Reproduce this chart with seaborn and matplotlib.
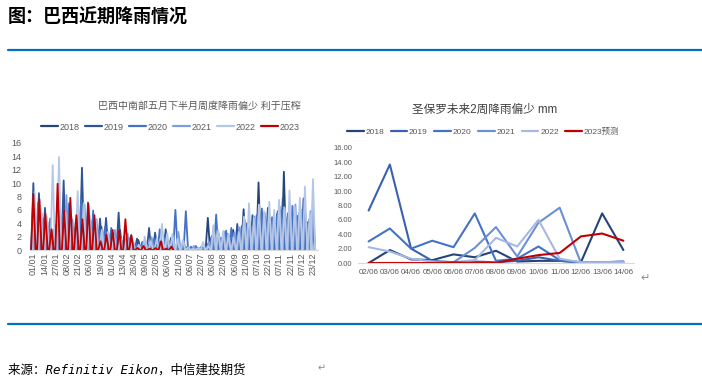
import numpy as np
import pandas as pd
import matplotlib
matplotlib.use("Agg")
import matplotlib.pyplot as plt
from matplotlib.lines import Line2D
import seaborn as sns

# ---- 左图：巴西中南部周度降雨 (每周一个读数, mm) ----
left_ticks = ["01/01", "14/01", "27/01", "08/02", "21/02", "06/03", "19/03", "01/04",
              "13/04", "26/04", "09/05", "22/05", "06/06", "21/06", "06/07", "22/07",
              "06/08", "22/08", "06/09", "21/09", "07/10", "22/10", "07/11", "22/11",
              "07/12", "23/12"]
left_tick_days = [0, 13, 26, 38, 51, 64, 77, 90, 102, 115, 128, 141, 156, 171, 186,
                  202, 217, 233, 248, 263, 279, 294, 310, 325, 340, 356]

rain_2018 = [2.5, 1.8, 3.0, 2.2, 4.0, 3.5, 5.0, 5.5, 4.5, 3.8, 4.0, 3.5, 2.8, 2.4, 3.0, 1.2,
             0.8, 1.5, 0.6, 1.0, 1.4, 0.5, 1.8, 0.9, 0.3, 0.2, 0.4, 0.1, 0.3, 0.2, 4.8, 1.6,
             2.0, 1.5, 2.4, 3.0, 2.2, 6.1, 2.6, 3.8, 10.1, 4.5, 3.9, 4.8, 3.6, 11.7, 5.0, 4.2,
             5.6, 4.3, 4.6, 3.5]
rain_2019 = [10.0, 8.5, 6.3, 3.5, 4.4, 10.4, 4.0, 4.6, 12.3, 7.1, 5.0, 4.7, 4.8, 2.6, 5.6, 1.5,
             2.2, 1.7, 0.9, 3.3, 2.6, 1.4, 3.1, 1.8, 0.3, 0.2, 0.4, 0.1, 0.2, 0.5, 1.0, 2.1,
             1.4, 1.8, 2.2, 1.6, 3.9, 2.9, 3.1, 5.2, 3.8, 4.4, 6.3, 3.3, 5.8, 7.7, 5.5, 5.2,
             4.6, 7.7, 3.8, 4.6]
rain_2020 = [6.0, 7.1, 4.8, 4.7, 3.8, 5.3, 7.0, 3.0, 7.6, 4.1, 5.9, 2.9, 3.5, 3.3, 2.3, 2.0,
             1.8, 0.9, 1.2, 0.8, 1.6, 3.1, 1.9, 1.2, 6.0, 0.6, 5.8, 0.5, 0.6, 0.3, 0.4, 1.9,
             5.3, 1.8, 2.9, 3.3, 2.2, 3.6, 4.0, 3.6, 5.2, 6.2, 4.2, 4.9, 5.4, 6.0, 4.8, 6.6,
             5.1, 5.8, 4.2, 5.0]
rain_2021 = [3.0, 5.5, 4.2, 3.0, 5.9, 8.2, 4.5, 3.2, 6.8, 4.4, 4.6, 3.0, 2.4, 3.0, 1.6, 2.5,
             1.0, 0.6, 1.3, 1.9, 0.5, 1.2, 1.5, 2.0, 2.7, 1.4, 0.2, 0.6, 0.3, 0.4, 1.2, 2.2,
             2.4, 2.8, 2.1, 2.6, 3.4, 4.5, 3.5, 5.0, 4.2, 5.5, 4.9, 4.1, 6.5, 6.2, 5.9, 6.8,
             6.1, 5.5, 5.8, 7.0]
rain_2022 = [8.7, 6.4, 5.0, 12.7, 13.9, 5.6, 4.0, 8.8, 7.0, 5.2, 4.5, 3.0, 2.7, 2.1, 1.6, 1.9,
             1.3, 0.8, 2.0, 1.3, 1.7, 3.9, 2.5, 2.4, 1.7, 1.5, 0.4, 0.2, 0.3, 1.2, 0.6, 3.7,
             3.0, 2.8, 2.4, 1.9, 2.7, 5.0, 7.0, 4.8, 6.8, 5.8, 7.2, 6.0, 7.5, 6.4, 8.9, 6.4,
             7.8, 9.5, 5.5, 10.6]
rain_2023 = [8.4, 7.6, 5.4, 3.1, 9.9, 5.9, 7.8, 5.2, 4.6, 6.9, 5.2, 1.3, 2.3, 3.0, 3.0, 4.6,
             2.2, 0.3, 0.6, 0.2, 0.3, 1.3, 0.2, 0.5]

left_years = ["2018", "2019", "2020", "2021", "2022", "2023"]
left_series = dict(zip(left_years, [rain_2018, rain_2019, rain_2020, rain_2021, rain_2022, rain_2023]))
left_colors = ["#264478", "#2f5597", "#4472c4", "#7f9cdb", "#b4c7e7", "#c00000"]
day_shift = {"2018": 1.0, "2019": -0.5, "2020": -1.5, "2021": 2.5, "2022": 1.5, "2023": 0.0}

# ---- 右图：圣保罗未来2周降雨 (mm) ----
right_dates = ["02/06", "03/06", "04/06", "05/06", "06/06", "07/06", "08/06", "09/06",
               "10/06", "11/06", "12/06", "13/06", "14/06"]
sp_2018 = [0.0, 1.8, 0.5, 0.4, 1.2, 0.8, 1.7, 0.2, 0.3, 0.3, 0.1, 6.9, 1.8]
sp_2019 = [7.3, 13.7, 2.0, 0.3, 0.1, 0.2, 0.1, 0.3, 0.8, 0.3, 0.1, 0.1, 0.1]
sp_2020 = [3.0, 4.8, 2.0, 3.1, 2.2, 6.9, 0.3, 0.6, 2.3, 0.4, 0.1, 0.1, 0.2]
sp_2021 = [0.0, 0.0, 0.0, 0.0, 0.1, 2.1, 5.0, 0.9, 5.6, 7.7, 0.0, 0.1, 0.2]
sp_2022 = [2.2, 1.6, 0.6, 0.2, 0.1, 0.4, 3.5, 2.3, 6.0, 0.6, 0.1, 0.1, 0.1]
sp_2023f = [0.0, 0.0, 0.0, 0.0, 0.1, 0.0, 0.0, 0.6, 1.1, 1.4, 3.7, 4.1, 3.1]
right_names = ["2018", "2019", "2020", "2021", "2022", "2023预测"]
right_series = [sp_2018, sp_2019, sp_2020, sp_2021, sp_2022, sp_2023f]
right_colors = ["#264478", "#3a62b0", "#4472c4", "#6d8fd4", "#a5b8e3", "#c00000"]

sns.set_theme(style="white")
plt.rcParams['font.family'] = ['Liberation Sans', 'Noto Sans CJK SC', 'DejaVu Sans']

W, H = 702, 388
fig = plt.figure(figsize=(W / 100, H / 100), dpi=100)
fig.patch.set_facecolor("white")


def fx(x):
    return x / W


def fy(y):
    return 1 - y / H


grey = "#595959"

# 顶部标题和分隔线
fig.text(fx(8), fy(17), "图：巴西近期降雨情况", fontsize=13, fontweight="bold",
         ha="left", va="center", color="black", family=['Noto Sans CJK SC', 'DejaVu Sans'])
for yy in (50, 324):
    fig.add_artist(Line2D([fx(8), 1.0], [fy(yy), fy(yy)], transform=fig.transFigure,
                          color="#0070c0", lw=1.6))

# ---- 左图 ----
rows = []
idx = np.arange(len(left_ticks))
for yr, vals in left_series.items():
    for w, v in enumerate(vals):
        p = np.interp(7 * w + day_shift[yr], left_tick_days, idx)
        rows += [(yr, p - 0.2, 0.0), (yr, p, v), (yr, p + 0.2, 0.0)]
df_left = pd.DataFrame(rows, columns=["year", "pos", "mm"])

ax1 = fig.add_axes([fx(30), fy(250), 288 / W, 107 / H])
sns.lineplot(data=df_left, x="pos", y="mm", hue="year", hue_order=left_years,
             palette=left_colors, estimator=None, sort=False, linewidth=1.3,
             legend=False, ax=ax1)
ax1.set_xlim(-0.3, 25.45)
ax1.set_ylim(0, 16)
ax1.set_yticks(range(0, 17, 2))
ax1.set_xticks(idx)
ax1.set_xticklabels(left_ticks, rotation=90)
ax1.set_xlabel("")
ax1.set_ylabel("")
ax1.tick_params(axis="both", length=0, labelsize=6.5, colors=grey)
ax1.tick_params(axis="y", pad=6)
ax1.tick_params(axis="x", pad=2)
for s in ["top", "right", "left"]:
    ax1.spines[s].set_visible(False)
ax1.spines["bottom"].set_color("#d9d9d9")
ax1.spines["bottom"].set_linewidth(0.8)

fig.text(fx(199), fy(106), "巴西中南部五月下半月周度降雨偏少 利于压榨", fontsize=7.2,
         color=grey, ha="center", va="center")
h1 = [Line2D([0], [0], color=c, lw=1.6) for c in left_colors]
fig.legend(h1, left_years, loc="center", bbox_to_anchor=(fx(170), fy(127)),
           ncol=6, frameon=False, fontsize=6.5, handlelength=1.9, handletextpad=0.15,
           columnspacing=0.6, labelcolor=grey)

# ---- 右图 ----
df_right = pd.DataFrame({"day": np.tile(np.arange(len(right_dates)), len(right_names)),
                         "mm": np.concatenate(right_series),
                         "series": np.repeat(right_names, len(right_dates))})
ax2 = fig.add_axes([fx(358), fy(263), 276 / W, 115 / H])
sns.lineplot(data=df_right, x="day", y="mm", hue="series", hue_order=right_names,
             palette=right_colors, estimator=None, linewidth=1.5, legend=False, ax=ax2)
ax2.set_xlim(-0.5, 12.5)
ax2.set_ylim(0, 16)
ax2.set_yticks(range(0, 17, 2))
ax2.set_yticklabels([f"{v:.2f}" for v in range(0, 17, 2)])
ax2.set_xticks(range(len(right_dates)))
ax2.set_xticklabels(right_dates)
ax2.set_xlabel("")
ax2.set_ylabel("")
ax2.tick_params(axis="y", length=0, labelsize=5.5, colors=grey, pad=4)
ax2.tick_params(axis="x", length=0, labelsize=5.8, colors=grey, pad=4)
for s in ["top", "right", "left"]:
    ax2.spines[s].set_visible(False)
ax2.spines["bottom"].set_color("#d9d9d9")
ax2.spines["bottom"].set_linewidth(0.8)

fig.text(fx(485), fy(110), "圣保罗未来2周降雨偏少 mm", fontsize=8.4, color="#404040",
         ha="center", va="center")
h2 = [Line2D([0], [0], color=c, lw=1.6) for c in right_colors]
fig.legend(h2, right_names, loc="center", bbox_to_anchor=(fx(483), fy(132)),
           ncol=6, frameon=False, fontsize=6, handlelength=2.0, handletextpad=0.2,
           columnspacing=0.8, labelcolor=grey)

fig.text(fx(640), fy(278), "↵", fontsize=8, color="#8c8c8c", ha="left", va="center",
         family="DejaVu Sans")

# 来源
fig.text(fx(8), fy(370), "来源：Refinitiv Eikon，中信建投期货", fontsize=9,
         style="italic", ha="left", va="center", color="black",
         family=['DejaVu Sans Mono', 'Noto Sans CJK SC'])
fig.text(fx(318), fy(368), "↵", fontsize=7, color="#8c8c8c", ha="left", va="center",
         family="DejaVu Sans")

fig.savefig("out.png", dpi=100, facecolor="white")
